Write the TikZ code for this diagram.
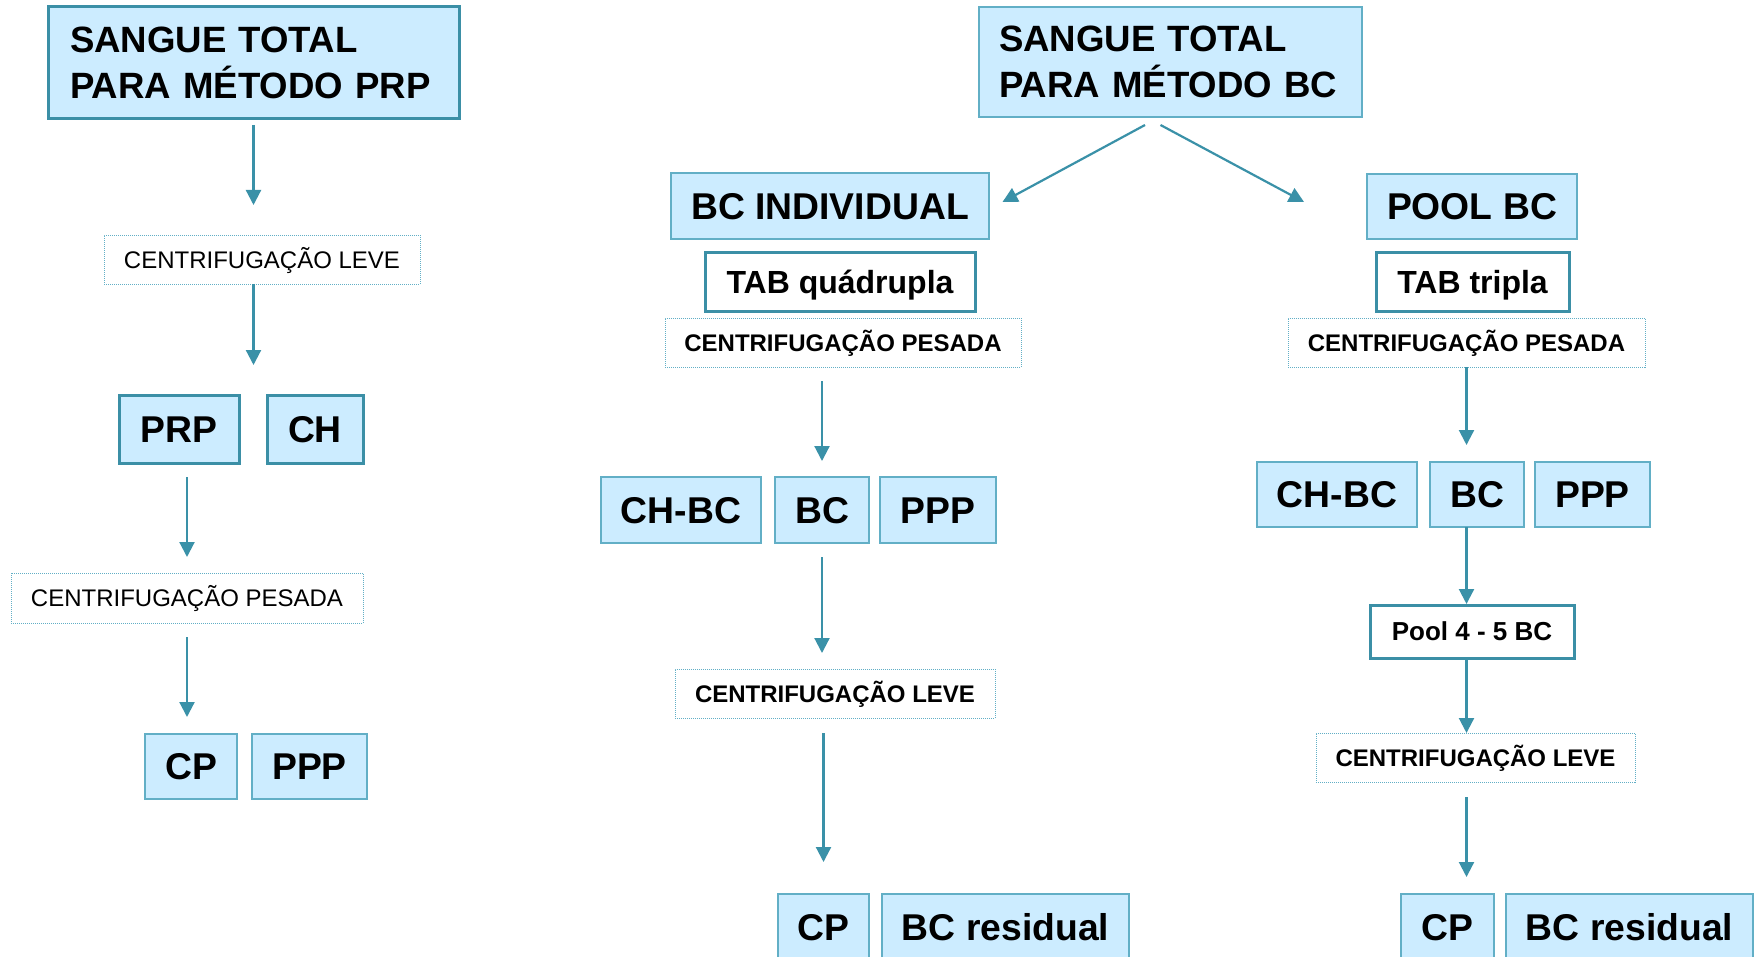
\documentclass[tikz,border=0pt]{standalone}
\usepackage{fontspec}
\setmainfont{Liberation Sans}
\usetikzlibrary{arrows.meta,calc}
\definecolor{fillblue}{HTML}{CCECFF}
\definecolor{tealdark}{HTML}{3B8FA6}
\definecolor{teallight}{HTML}{62AFC6}
\definecolor{arrowc}{HTML}{3A91A8}
\tikzset{
 base/.style={anchor=north west, inner sep=0pt, outer sep=0pt},
 bluethick/.style={base, fill=fillblue, draw=tealdark, line width=3pt},
 bluethin/.style={base, fill=fillblue, draw=teallight, line width=1.4pt},
 whitethick/.style={base, fill=white, draw=tealdark, line width=3pt},
 dotbox/.style={base, draw=teallight, line width=0.9pt, dash pattern=on 1pt off 1pt},
 f36/.style={font=\fontsize{37.3}{44}\selectfont\bfseries, text height=26.7pt, text depth=0pt},
 f32/.style={font=\fontsize{32}{38}\selectfont\bfseries, text height=22.9pt, text depth=0pt},
 f26/.style={font=\fontsize{26}{31}\selectfont\bfseries, text height=18.6pt, text depth=0pt},
 f24/.style={font=\fontsize{24}{29}\selectfont, text height=17.2pt, text depth=0pt},
 f24b/.style={font=\fontsize{24}{29}\selectfont\bfseries, text height=17.2pt, text depth=0pt},
 titletext/.style={font=\fontsize{36.6}{45.7}\selectfont\bfseries, align=left},
 arr/.style={draw=arrowc, line width=2.2pt, -{Triangle[width=15pt,length=15pt]}},
}
\begin{document}
\begin{tikzpicture}[x=1pt,y=-1pt]
\useasboundingbox (0,0) rectangle (1760,957);
\fill[white] (0,0) rectangle (1760,957);

% ---------- left column ----------
\node[bluethick, titletext, text width=367pt, inner xsep=22pt, minimum width=411pt, minimum height=112pt] (bprp) at (48,7) {SANGUE TOTAL\\PARA MÉTODO PRP};
\node[dotbox, f24, minimum width=316pt, minimum height=49pt] (lleve) at (104,235) {CENTRIFUGAÇÃO LEVE};
\node[bluethick, f36, minimum width=120pt, minimum height=68pt] (prp) at (119,395) {PRP};
\node[bluethick, f36, minimum width=96pt, minimum height=68pt] (ch) at (267,395) {CH};
\node[dotbox, f24, minimum width=352pt, minimum height=50pt] (lpes) at (11,573) {CENTRIFUGAÇÃO PESADA};
\node[bluethin, f36, minimum width=92pt, minimum height=65pt] (lcp) at (145,734) {CP};
\node[bluethin, f36, minimum width=115pt, minimum height=65pt] (lppp) at (252,734) {PPP};

\draw[arr, shorten <=6pt, shorten >=30pt] (bprp.south) -- (bprp.south |- lleve.north);
\draw[arr, shorten >=30pt] (lleve.south -| bprp.south) -- (bprp.south |- prp.north);
\draw[arr, shorten <=14pt, shorten >=16pt] (prp.south -| lpes.north) -- (lpes.north);
\draw[arr, shorten <=14pt, shorten >=17pt] (lpes.south) -- (lpes.south |- lcp.north);

% ---------- middle column ----------
\node[bluethin, titletext, text width=343pt, inner xsep=20pt, minimum width=383pt, minimum height=110pt] (bbc) at (979,7) {SANGUE TOTAL\\PARA MÉTODO BC};
\node[bluethin, f36, minimum width=318pt, minimum height=66pt] (bci) at (671,173) {BC INDIVIDUAL};
\node[whitethick, f32, minimum width=270pt, minimum height=59pt] (tabq) at (705,253) {TAB quádrupla};
\node[dotbox, f24b, minimum width=356pt, minimum height=49pt] (mpes) at (665,318) {CENTRIFUGAÇÃO PESADA};
\node[bluethin, f36, minimum width=160pt, minimum height=66pt] (mchbc) at (601,477) {CH-BC};
\node[bluethin, f36, minimum width=94pt, minimum height=66pt] (mbc) at (775,477) {BC};
\node[bluethin, f36, minimum width=116pt, minimum height=66pt] (mppp) at (880,477) {PPP};
\node[dotbox, f24b, minimum width=320pt, minimum height=49pt] (mleve) at (675,669) {CENTRIFUGAÇÃO LEVE};
\node[bluethin, f36, minimum width=91pt, minimum height=66pt] (mcp) at (778,894) {CP};
\node[bluethin, f36, minimum width=247pt, minimum height=66pt] (mbcr) at (882,894) {BC residual};

% ---------- right column ----------
\node[bluethin, f36, minimum width=210pt, minimum height=65pt] (pool) at (1367,174) {POOL BC};
\node[whitethick, f32, minimum width=193pt, minimum height=59pt] (tabt) at (1376,253) {TAB tripla};
\node[dotbox, f24b, minimum width=357pt, minimum height=49pt] (rpes) at (1288,318) {CENTRIFUGAÇÃO PESADA};
\node[bluethin, f36, minimum width=160pt, minimum height=65pt] (rchbc) at (1257,462) {CH-BC};
\node[bluethin, f36, minimum width=94pt, minimum height=65pt] (rbc) at (1430,462) {BC};
\node[bluethin, f36, minimum width=115pt, minimum height=65pt] (rppp) at (1535,462) {PPP};
\node[whitethick, f26, minimum width=204pt, minimum height=53pt] (pool45) at (1370,605) {Pool 4 - 5 BC};
\node[dotbox, f24b, minimum width=319pt, minimum height=49pt] (rleve) at (1316,733) {CENTRIFUGAÇÃO LEVE};
\node[bluethin, f36, minimum width=93pt, minimum height=66pt] (rcp) at (1401,894) {CP};
\node[bluethin, f36, minimum width=247pt, minimum height=66pt] (rbcr) at (1506,894) {BC residual};

% ---------- connectors ----------
\draw[arr] ($(bbc.south)+(-25.5,8)$) -- ($(bci.east)+(13.5,-4)$);
\draw[arr] ($(bbc.south)+(-10,8)$) -- ($(pool.west)+(-63,-4.5)$);

\draw[arr, shorten <=14pt, shorten >=16pt] (mpes.south -| mbc.north) -- (mbc.north);
\draw[arr, shorten <=14pt, shorten >=16pt] (mbc.south) -- (mbc.south |- mleve.north);
\draw[arr, shorten <=15pt, shorten >=32pt] (mleve.south -| mcp.north) -- (mcp.north);

\draw[arr, shorten >=17pt] (rpes.south) -- (rpes.south |- rbc.north);
\draw[arr, shorten >=1pt] (rbc.south -| rpes.south) -- (rpes.south |- pool45.north);
\draw[arr] (pool45.south -| rpes.south) -- (rpes.south |- rleve.north);
\draw[arr, shorten <=15pt, shorten >=17pt] (rleve.south -| rpes.south) -- (rpes.south |- rcp.north);
\end{tikzpicture}
\end{document}
